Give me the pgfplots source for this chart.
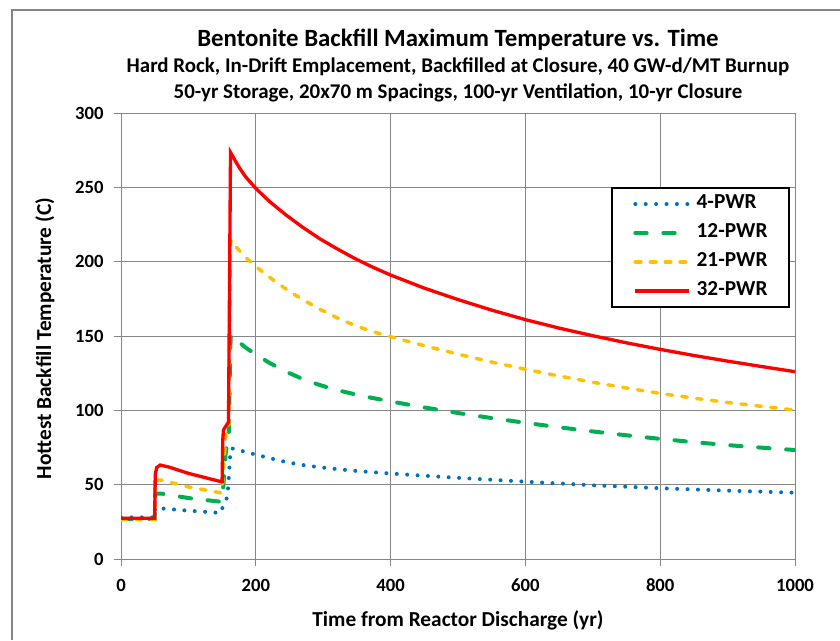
\documentclass[border=0pt]{standalone}
\usepackage{fontspec}
\setmainfont{Carlito}
\usepackage{pgfplots}
\pgfplotsset{compat=1.18}
\definecolor{gridgray}{HTML}{868686}
\definecolor{xlblue}{HTML}{0070C0}
\definecolor{xlgreen}{HTML}{00B050}
\definecolor{xlyellow}{HTML}{FFC000}
\definecolor{xlred}{HTML}{FF0000}
\begin{document}
\begin{tikzpicture}
\useasboundingbox (0,0) rectangle (630pt,480pt);
\draw[gridgray, line width=1.5pt] (9pt,0) -- (9pt,472.5pt) -- (630pt,472.5pt);
\begin{axis}[
  at={(90.75pt,60.75pt)}, anchor=south west,
  scale only axis, width=505.5pt, height=334.5pt,
  xmin=0, xmax=1000, ymin=0, ymax=300,
  xtick={0,200,...,1000}, ytick={0,50,...,300},
  grid=major, major grid style={gridgray, line width=0.75pt},
  axis line style={gridgray, line width=0.75pt},
  tick style={gridgray, line width=0.75pt},
  tick align=outside, major tick length=5.5pt,
  xtick pos=bottom, ytick pos=left,
  ticklabel style={font=\bfseries\fontsize{14}{16}\selectfont},
  xticklabel style={yshift=-6pt},
  yticklabel style={xshift=-4pt},
  /pgf/number format/assume math mode=true,
  /pgf/number format/set thousands separator={},
  legend style={at={(0.727,0.834)}, anchor=north west, draw=black, line width=1.5pt,
    inner xsep=16pt, inner ysep=6pt, row sep=9.75pt, column sep=4.5pt,
    font=\bfseries\fontsize{16}{18}\selectfont,
    nodes={inner sep=0pt, text height=9pt, text depth=3pt}},
  legend cell align=left,
  legend image code/.code={\draw[#1] (0pt,0pt) -- (40pt,0pt);},
]
\addplot[xlblue, line width=3pt, line cap=round, dash pattern=on 0pt off 7.8pt] coordinates {
(0,28) (50,28) (50.5,34.5) (60,34) (100,32.5) (148,31) (151,35) (155,39) (158,42) (160,55) (162,70) (164,74.5) (170,73.8) (185,72) (200,70.2) (220,67.9) (246,65.1) (270,63.2) (295,61.7) (320,60.5) (345,59.4) (370,58.5) (400,57.5) (450,56) (500,54.6) (550,53.3) (600,52) (700,49.6) (800,47.6) (900,46) (1000,44.6)};
\addlegendentry{4-PWR}
\addplot[xlgreen, line width=3pt, line cap=round, dash pattern=on 8.5pt off 12.5pt] coordinates {
(0,27) (50,27) (50.5,44) (60,44) (100,41) (148,38.5) (150,40) (152,50) (155,70) (158,80) (160,82) (162,140) (163,151) (170,147.8) (185,142.2) (200,137.5) (220,132) (246,125.8) (270,121) (295,117) (320,113.7) (345,111) (370,108.6) (400,106) (444,102.4) (500,98.2) (550,94.8) (600,91.6) (650,88.6) (700,85.8) (750,83.2) (800,80.8) (850,78.6) (900,76.6) (950,74.9) (1000,73.3)};
\addlegendentry{12-PWR}
\addplot[xlyellow, line width=2.6pt, line cap=round, dash pattern=on 4.2pt off 7pt] coordinates {
(0,26.5) (50,26.5) (50.5,53) (60,53) (100,48.5) (148,44.5) (150,46) (152,60) (155,80) (158,89) (160,90) (162,200) (163,214.5) (170,210.3) (185,202.8) (200,196.8) (220,189.6) (246,181.2) (270,174.4) (295,168) (320,162.4) (345,157.5) (370,153.4) (400,149.5) (444,144.2) (500,137.8) (550,132.5) (600,127.6) (650,123.1) (700,118.9) (750,115) (800,111.4) (850,108.2) (900,105.3) (950,102.7) (1000,100.2)};
\addlegendentry{21-PWR}
\addplot[xlred, line width=2.5pt] coordinates {
(0,27.4) (50,27.4) (50.8,57) (53,61.5) (58,63.2) (70,62) (100,57.6) (148.6,52) (150,52) (151,80) (152,86.7) (155,89) (158,91) (159.5,92) (162.5,273.5) (170,267.5) (176.6,262.5) (185,257) (200,249.3) (220,240.6) (246,231) (270,223) (295,215.4) (320,208.8) (345,202.6) (370,197) (400,191) (450,182.2) (500,174.5) (550,167.4) (600,161) (650,155.3) (700,150.2) (750,145.4) (800,141) (850,136.9) (900,133.1) (950,129.5) (1000,126)};
\addlegendentry{32-PWR}
\end{axis}
\node[font=\bfseries\fontsize{18.6}{22}\selectfont] at (343.5pt,450pt) {Bentonite Backfill Maximum Temperature vs. Time};
\node[font=\bfseries\fontsize{15.7}{18}\selectfont] at (343.5pt,429.75pt) {Hard Rock, In-Drift Emplacement, Backfilled at Closure, 40 GW-d/MT Burnup};
\node[font=\bfseries\fontsize{15.7}{18}\selectfont] at (343.5pt,410.25pt) {50-yr Storage, 20x70 m Spacings, 100-yr Ventilation, 10-yr Closure};
\node[font=\bfseries\fontsize{16}{19}\selectfont] at (343.5pt,14.5pt) {Time from Reactor Discharge (yr)};
\node[font=\bfseries\fontsize{16}{19}\selectfont, rotate=90] at (33.75pt,226pt) {Hottest Backfill Temperature (C)};
\end{tikzpicture}
\end{document}
